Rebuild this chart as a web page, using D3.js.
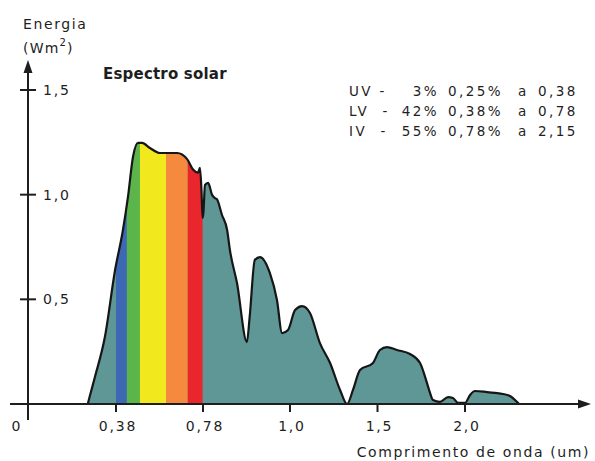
<!DOCTYPE html>
<html>
<head>
<meta charset="utf-8">
<script src="https://cdn.jsdelivr.net/npm/d3@7/dist/d3.min.js"></script>
<style>
  html, body { margin: 0; padding: 0; background: #ffffff; }
  svg { display: block; }
  text { font-family: "DejaVu Sans", Verdana, sans-serif; fill: #1e1e1e; }
</style>
</head>
<body>
<svg id="chart" width="595" height="461"></svg>
<script>
// ---- data ----
const wavelength = [0.258,0.267,0.289,0.332,0.376,0.412,0.435,0.458,0.481,0.500,0.536,0.582,0.661,0.707,0.734,0.757,0.766,0.773,0.778,0.781,0.785,0.793,0.803,0.810,0.815,0.828,0.841,0.848,0.866,0.891,0.898,0.911,0.924,0.949,0.967,0.980,0.995,1.029,1.069,1.114,1.171,1.229,1.286,1.326,1.360,1.400,1.474,1.514,1.554,1.611,1.686,1.743,1.783,1.800,1.817,1.857,1.903,1.931,1.960,2.000,2.029,2.057,2.126,2.171,2.217,2.257,2.297,2.309];
const energy     = [0,0.038,0.129,0.320,0.640,0.831,0.989,1.180,1.247,1.247,1.223,1.199,1.199,1.170,1.120,1.105,1.128,1.022,0.889,0.913,1.046,1.056,0.999,0.984,0.979,0.903,0.831,0.736,0.578,0.296,0.416,0.688,0.702,0.626,0.497,0.339,0.354,0.449,0.468,0.435,0.291,0.196,0.067,0.000,0.067,0.162,0.196,0.258,0.272,0.258,0.239,0.196,0.100,0.053,0.019,0.010,0.033,0.029,0.005,0.005,0.043,0.062,0.057,0.053,0.048,0.038,0.010,0];

const xTickValues = [0.38, 0.78, 1.0, 1.5, 2.0];
const xTickLabels = ["0,38", "0,78", "1,0", "1,5", "2,0"];
const yTickValues = [0.5, 1.0, 1.5];
const yTickLabels = ["0,5", "1,0", "1,5"];

const bandStart = [0.38, 0.43, 0.49, 0.61, 0.71];
const bandEnd   = [0.43, 0.49, 0.61, 0.71, 0.778];
const bandColor = ["#3d68b4", "#5bb54a", "#f1e91d", "#f58a3e", "#e8262b"];

const legendName = ["UV -", "LV  -", "IV  -"];
const legendPct  = ["3%", "42%", "55%"];
const legendFrom = ["0,25%", "0,38%", "0,78%"];
const legendTo   = ["0,38", "0,78", "2,15"];

const title = "Espectro solar";
const xTitle = "Comprimento de onda (um)";
const yTitle1 = "Energia";

// ---- drawing ----
const svg = d3.select("#chart");
const x = d3.scaleLinear().domain([0, 0.38, 0.78, 1.0, 2.0]).range([28, 116, 203, 290, 465]);
const y = d3.scaleLinear().domain([0, 1.5]).range([404, 90]);

const pts = wavelength.map((w, i) => ({ w, v: energy[i] }));
const areaGen = d3.area().x(d => x(d.w)).y0(y(0)).y1(d => y(d.v)).curve(d3.curveMonotoneX);
const lineGen = d3.line().x(d => x(d.w)).y(d => y(d.v)).curve(d3.curveMonotoneX);

const defs = svg.append("defs");
defs.append("clipPath").attr("id", "areaClip").append("path").attr("d", areaGen(pts));

svg.append("path").attr("d", areaGen(pts)).attr("fill", "#5f9696");

svg.append("g").attr("clip-path", "url(#areaClip)")
  .selectAll("rect").data(bandStart).join("rect")
  .attr("x", (d) => x(d))
  .attr("width", (d, i) => x(bandEnd[i]) - x(d))
  .attr("y", y(1.5) - 20)
  .attr("height", y(0) - y(1.5) + 20)
  .attr("fill", (d, i) => bandColor[i]);

svg.append("path").attr("d", lineGen(pts))
  .attr("fill", "none").attr("stroke", "#161616").attr("stroke-width", 2.2)
  .attr("stroke-linejoin", "round");

// axes
const axisColor = "#1e1e1e";
svg.append("line").attr("x1", 10).attr("x2", 584).attr("y1", y(0)).attr("y2", y(0))
  .attr("stroke", axisColor).attr("stroke-width", 2);
svg.append("path").attr("d", `M591,${y(0)} L578,${y(0) - 4.5} L578,${y(0) + 4.5} Z`).attr("fill", axisColor);

svg.append("line").attr("x1", x(0)).attr("x2", x(0)).attr("y1", 420).attr("y2", 70)
  .attr("stroke", axisColor).attr("stroke-width", 2);
svg.append("path").attr("d", `M${x(0)},60 L${x(0) - 4.5},73 L${x(0) + 4.5},73 Z`).attr("fill", axisColor);

// y ticks
const yt = svg.append("g");
yt.selectAll("line").data(yTickValues).join("line")
  .attr("x1", x(0) - 8).attr("x2", x(0) + 8)
  .attr("y1", d => y(d)).attr("y2", d => y(d))
  .attr("stroke", axisColor).attr("stroke-width", 2);
yt.selectAll("text").data(yTickValues).join("text")
  .attr("x", 43).attr("y", d => y(d) + 5)
  .attr("font-size", 14).attr("letter-spacing", 1.8)
  .text((d, i) => yTickLabels[i]);

// x ticks
const xt = svg.append("g");
xt.selectAll("line").data(xTickValues).join("line")
  .attr("x1", d => x(d)).attr("x2", d => x(d))
  .attr("y1", y(0)).attr("y2", y(0) + 8)
  .attr("stroke", axisColor).attr("stroke-width", 2);
xt.selectAll("text").data(xTickValues).join("text")
  .attr("x", d => x(d) + 2).attr("y", 431)
  .attr("text-anchor", "middle")
  .attr("font-size", 14).attr("letter-spacing", 1.8)
  .text((d, i) => xTickLabels[i]);
svg.append("text").attr("x", 16).attr("y", 431).attr("text-anchor", "middle")
  .attr("font-size", 14).text("0");

// axis titles
svg.append("text").attr("x", 590).attr("y", 457).attr("text-anchor", "end")
  .attr("font-size", 14).attr("letter-spacing", 1.6).text(xTitle);
svg.append("text").attr("x", 23).attr("y", 29)
  .attr("font-size", 14).attr("letter-spacing", 1.6).text(yTitle1);
const yt2 = svg.append("text").attr("x", 23).attr("y", 53).attr("font-size", 14).attr("letter-spacing", 1.2);
yt2.append("tspan").text("(Wm");
yt2.append("tspan").attr("font-size", 10).attr("dy", -7).text("2");
yt2.append("tspan").attr("dy", 7).text(")");

// title
svg.append("text").attr("x", 103).attr("y", 79)
  .attr("font-size", 15).attr("font-weight", "bold").attr("letter-spacing", 0.2)
  .text(title);

// legend
const lg = svg.append("g").attr("font-size", 13.5).attr("letter-spacing", 2.4);
legendName.forEach((name, i) => {
  const by = 96 + i * 20;
  lg.append("text").attr("x", 349).attr("y", by).style("white-space", "pre").text(name);
  lg.append("text").attr("x", 439).attr("y", by).attr("text-anchor", "end").text(legendPct[i]);
  lg.append("text").attr("x", 448).attr("y", by).text(legendFrom[i]);
  lg.append("text").attr("x", 518).attr("y", by).text("a");
  lg.append("text").attr("x", 538).attr("y", by).text(legendTo[i]);
});
</script>
</body>
</html>
